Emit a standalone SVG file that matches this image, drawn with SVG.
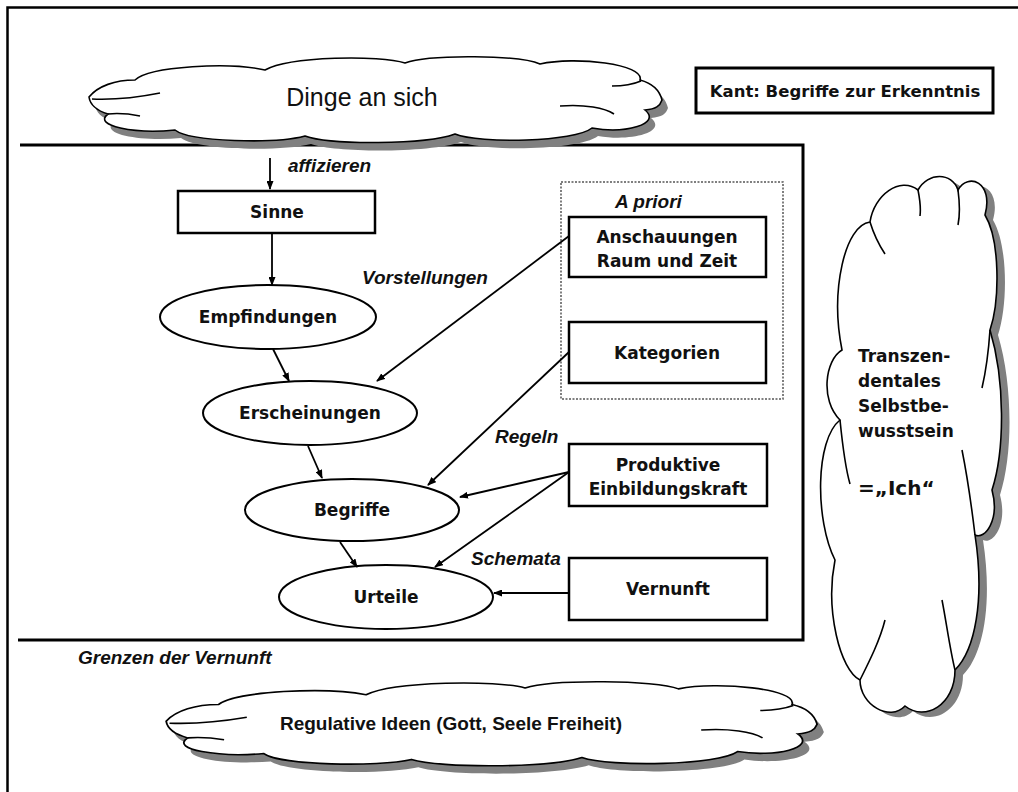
<svg xmlns="http://www.w3.org/2000/svg" width="1018" height="792" viewBox="0 0 1018 792">
<style>
.frame{fill:none;stroke:#000;stroke-width:2.5}
.box{fill:#fff;stroke:#000;stroke-width:2.5}
.ell{fill:#fff;stroke:#000;stroke-width:2}
.cloud{fill:#fff;stroke:#000;stroke-width:1.6}
.shadow{fill:#808080;stroke:none}
.wisp{fill:none;stroke:#000;stroke-width:1.6}
.lbl{font-family:"DejaVu Sans",Verdana,sans-serif;font-weight:bold;font-size:17px;fill:#111;text-anchor:middle}
.it{font-family:"Liberation Sans",Arial,sans-serif;font-weight:bold;font-style:italic;font-size:19px;fill:#111}
.conn line{stroke:#000;stroke-width:1.8;marker-end:url(#ah)}
</style>
<defs>
<marker id="ah" markerUnits="userSpaceOnUse" markerWidth="9" markerHeight="7" refX="8" refY="3.5" orient="auto">
<path d="M0,0 L9,3.5 L0,7 Z" fill="#000"/>
</marker>
<path id="hcloud" d="M 89,97 C 98,86 115,80 135,80 C 150,66 230,62 265,70 C 290,56 380,55 405,63 C 430,54 520,55 540,64 C 575,56 645,64 640,80 C 655,84 660,92 662,100 C 660,106 656,109 645,110 C 662,124 625,134 592,128 C 575,142 480,144 455,134 C 425,145 330,145 305,136 C 275,144 190,142 175,130 C 135,134 92,126 108,114 C 95,110 90,104 89,97 Z"/>
<path id="hwisp" d="M 92,99 C 115,100 140,97 160,93 M 108,114 C 118,113 130,114 140,116 M 560,106 C 585,104 605,108 614,114 M 612,86 C 625,86 634,84 641,81"/>
<path id="vcloud" d="M 842,350 C 830,290 845,225 870,222 C 874,195 900,176 918,190 C 928,172 952,172 958,190 C 968,172 994,182 985,215 C 1000,240 1000,300 990,330 C 1005,380 1005,450 992,490 C 1000,520 985,540 975,535 C 985,600 975,650 955,670 C 955,705 925,722 905,706 C 890,722 860,705 860,680 C 840,670 825,610 835,560 C 815,520 815,440 840,420 C 820,400 825,360 842,350 Z"/>
</defs>

<rect width="1018" height="792" fill="#fff"/>

<!-- outer frame (top and left only) -->
<path class="frame" d="M 7.5,792 L 7.5,7.5 L 1018,7.5"/>

<!-- main area: top line, right side, bottom line -->
<path id="main-box" d="M 20,145 L 803,145 L 803,640 L 18,640" fill="none" stroke="#000" stroke-width="3"/>

<!-- Dinge an sich cloud -->
<g id="cloud-dinge">
<use href="#hcloud" class="shadow" transform="translate(6,8)"/>
<use href="#hcloud" class="cloud"/>
<use href="#hwisp" class="wisp"/>
<text x="362" y="106" font-family="Liberation Sans, Arial, sans-serif" font-size="25" fill="#111" text-anchor="middle">Dinge an sich</text>
</g>

<!-- title box -->
<g id="title">
<rect x="696" y="68" width="297" height="45" fill="#fff" stroke="#000" stroke-width="3"/>
<text x="845" y="97" font-family="DejaVu Sans, Verdana, sans-serif" font-weight="bold" font-size="16.5" fill="#111" text-anchor="middle">Kant: Begriffe zur Erkenntnis</text>
</g>

<!-- A priori dotted group -->
<g id="apriori">
<rect x="561" y="182" width="222" height="217" fill="none" stroke="#555" stroke-width="1.5" stroke-dasharray="2,1.5"/>
<text class="it" x="615" y="208">A priori</text>
</g>

<!-- nodes -->
<g id="sinne">
<rect class="box" x="178" y="191" width="197" height="42"/>
<text class="lbl" x="277" y="218">Sinne</text>
</g>
<g id="empfindungen">
<ellipse class="ell" cx="268" cy="317" rx="108" ry="32"/>
<text class="lbl" x="268" y="323">Empfindungen</text>
</g>
<g id="erscheinungen">
<ellipse class="ell" cx="310" cy="413" rx="107" ry="32"/>
<text class="lbl" x="310" y="419">Erscheinungen</text>
</g>
<g id="begriffe">
<ellipse class="ell" cx="352" cy="510" rx="107" ry="31"/>
<text class="lbl" x="352" y="516">Begriffe</text>
</g>
<g id="urteile">
<ellipse class="ell" cx="386" cy="597" rx="107" ry="32"/>
<text class="lbl" x="386" y="603">Urteile</text>
</g>
<g id="anschauungen">
<rect class="box" x="569" y="217" width="197" height="60"/>
<text class="lbl" x="667" y="243">Anschauungen</text>
<text class="lbl" x="667" y="267">Raum und Zeit</text>
</g>
<g id="kategorien">
<rect class="box" x="569" y="322" width="197" height="61"/>
<text class="lbl" x="667" y="359">Kategorien</text>
</g>
<g id="produktive">
<rect class="box" x="569" y="444" width="198" height="62"/>
<text class="lbl" x="668" y="471">Produktive</text>
<text class="lbl" x="668" y="495">Einbildungskraft</text>
</g>
<g id="vernunft">
<rect class="box" x="569" y="558" width="198" height="62"/>
<text class="lbl" x="668" y="595">Vernunft</text>
</g>

<!-- connectors -->
<g id="connectors" class="conn">
<line x1="270" y1="158" x2="270" y2="189"/>
<line x1="272" y1="233" x2="272" y2="285"/>
<line x1="273" y1="349" x2="289" y2="381"/>
<line x1="569" y1="236" x2="377" y2="381"/>
<line x1="308" y1="446" x2="322" y2="478"/>
<line x1="569" y1="352" x2="428" y2="485"/>
<line x1="569" y1="472" x2="460" y2="497"/>
<line x1="569" y1="472" x2="435" y2="567"/>
<line x1="340" y1="542" x2="357" y2="567"/>
<line x1="569" y1="593" x2="494" y2="593"/>
</g>

<!-- italic labels -->
<g id="labels">
<text class="it" x="288" y="172">affizieren</text>
<text class="it" x="362" y="284">Vorstellungen</text>
<text class="it" x="495" y="443">Regeln</text>
<text class="it" x="471" y="565">Schemata</text>
<text class="it" x="78" y="664">Grenzen der Vernunft</text>
</g>

<!-- Regulative Ideen cloud -->
<g id="cloud-ideen">
<g transform="translate(165,683) scale(1.136,0.98) translate(-88,-58)">
<use href="#hcloud" class="shadow" transform="translate(6,8)"/>
<use href="#hcloud" class="cloud"/>
<use href="#hwisp" class="wisp"/>
</g>
<text x="451" y="730" font-family="Liberation Sans, Arial, sans-serif" font-weight="bold" font-size="19" fill="#111" text-anchor="middle">Regulative Ideen (Gott, Seele Freiheit)</text>
</g>

<!-- Ich cloud -->
<g id="cloud-ich">
<use href="#vcloud" class="shadow" transform="translate(8,5)"/>
<use href="#vcloud" class="cloud"/>
<path class="wisp" d="M 870,222 C 874,235 879,245 885,254 M 918,190 C 920,200 921,208 920,216 M 958,190 C 960,205 960,215 958,225 M 990,330 C 988,360 985,375 982,388 M 840,420 C 842,440 846,470 850,484 M 975,535 C 972,510 968,480 962,450 M 860,680 C 870,660 880,640 885,620 M 955,670 C 950,650 946,620 942,600"/>
<g font-family="DejaVu Sans, Verdana, sans-serif" font-weight="bold" font-size="17" fill="#111">
<text x="858" y="362">Transzen-</text>
<text x="858" y="387">dentales</text>
<text x="858" y="412">Selbstbe-</text>
<text x="858" y="437">wusstsein</text>
<text x="858" y="495" font-size="20">=„Ich“</text>
</g>
</g>
</svg>
